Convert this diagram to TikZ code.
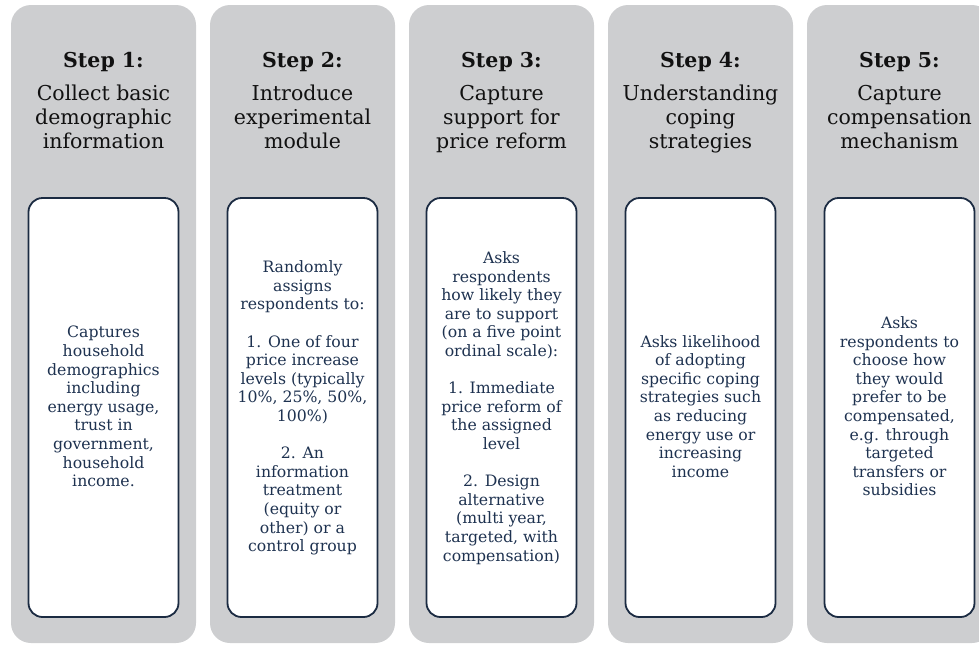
\documentclass[tikz,border=0pt]{standalone}
\usepackage{fontspec}
\setmainfont{DejaVu Serif}

\definecolor{colfill}{HTML}{CDCED0}
\definecolor{boxline}{HTML}{1B2B42}
\definecolor{bodytext}{HTML}{1E3250}
\definecolor{headtext}{HTML}{111111}

\tikzset{
  column/.style={rectangle, fill=colfill, rounded corners=20pt,
    minimum width=185pt, minimum height=638pt, inner sep=0pt},
  card/.style={rectangle, draw=boxline, line width=1.8pt, fill=white,
    rounded corners=14pt, minimum width=150pt, minimum height=419pt, inner sep=0pt},
  steplabel/.style={anchor=base, inner sep=0pt,
    font=\fontsize{20.5}{24}\selectfont\bfseries, text=headtext},
  headline/.style={anchor=north, inner sep=0pt, align=center,
    font=\fontsize{20.5}{24}\selectfont, text=headtext},
  cardtext/.style={anchor=north, inner sep=0pt, align=center,
    font=\fontsize{15.7}{18.6}\selectfont, text=bodytext},
}

\begin{document}
\begin{tikzpicture}[x=1pt, y=-1pt]
  \useasboundingbox (0,0) rectangle (979,646);
  \clip (0,0) rectangle (979,646);

  % grey step columns
  \node[column] (col1) at (103.5,324) {};
  \node[column] (col2) at (302.5,324) {};
  \node[column] (col3) at (501.5,324) {};
  \node[column] (col4) at (700.5,324) {};
  \node[column] (col5) at (899.5,324) {};

  % white description cards
  \node[card] (card1) at (103.5,407.5) {};
  \node[card] (card2) at (302.5,407.5) {};
  \node[card] (card3) at (501.5,407.5) {};
  \node[card] (card4) at (700.5,407.5) {};
  \node[card] (card5) at (899.5,407.5) {};

  % step numbers
  \node[steplabel] (step1) at (103.5,67) {Step 1:};
  \node[steplabel] (step2) at (302.5,67) {Step 2:};
  \node[steplabel] (step3) at (501.5,67) {Step 3:};
  \node[steplabel] (step4) at (700.5,67) {Step 4:};
  \node[steplabel] (step5) at (899.5,67) {Step 5:};

  % step titles
  \node[headline] (title1) at (103.5,83.2) {\strut Collect basic\\demographic\\information};
  \node[headline] (title2) at (302.5,83.2) {\strut Introduce\\experimental\\module};
  \node[headline] (title3) at (501.5,83.2) {\strut Capture\\support for\\price reform};
  \node[headline] (title4) at (700.5,83.2) {\strut Understanding\\coping\\strategies};
  \node[headline] (title5) at (899.5,83.2) {\strut Capture\\compensation\\mechanism};

  % card descriptions
  \node[cardtext] (text1) at (103.5,324.6) {\strut Captures\\household\\demographics\\including\\energy usage,\\trust in\\government,\\household\\income.};
  \node[cardtext] (text2) at (302.5,259.5) {\strut Randomly\\assigns\\respondents to:\\[18.6pt]1. One of four\\price increase\\levels (typically\\10\%, 25\%, 50\%,\\100\%)\\[18.6pt]2. An\\information\\treatment\\(equity or\\other) or a\\control group};
  \node[cardtext] (text3) at (501.5,250.2) {\strut Asks\\respondents\\how likely they\\are to support\\(on a five point\\ordinal scale):\\[18.6pt]1. Immediate\\price reform of\\the assigned\\level\\[18.6pt]2. Design\\alternative\\(multi year,\\targeted, with\\compensation)};
  \node[cardtext] (text4) at (700.5,333.9) {\strut Asks likelihood\\of adopting\\specific coping\\strategies such\\as reducing\\energy use or\\increasing\\income};
  \node[cardtext] (text5) at (899.5,315.3) {\strut Asks\\respondents to\\choose how\\they would\\prefer to be\\compensated,\\e.g. through\\targeted\\transfers or\\subsidies};
\end{tikzpicture}
\end{document}
